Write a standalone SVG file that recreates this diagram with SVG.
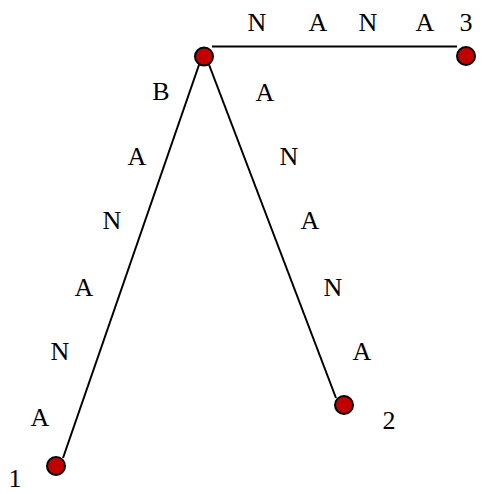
<svg xmlns="http://www.w3.org/2000/svg" width="489" height="494" viewBox="0 0 489 494">
<style>
.edge{stroke:#000;stroke-width:2;fill:none}
.node{fill:#c00000;stroke:#000;stroke-width:2}
text{font-family:"Liberation Serif","Times New Roman",serif;font-size:26px;fill:#000;text-anchor:middle}
</style>
<rect width="489" height="494" fill="#fff"/>
<g id="connectors">
<line class="edge" x1="212" y1="46.5" x2="457" y2="46.5"/>
<line class="edge" x1="200" y1="62" x2="63" y2="458"/>
<line class="edge" x1="208" y1="62" x2="336" y2="398"/>
</g>
<g id="labels">
<text x="257" y="31">N</text><text x="318" y="31">A</text><text x="368" y="31">N</text><text x="425" y="31">A</text>
<text x="161" y="100">B</text><text x="137" y="165">A</text><text x="112" y="229">N</text><text x="84" y="296">A</text><text x="60" y="360">N</text><text x="40" y="426">A</text>
<text x="265" y="101">A</text><text x="289" y="165">N</text><text x="310" y="229">A</text><text x="333" y="296">N</text><text x="362" y="360">A</text>
</g>
<g id="root"><circle class="node" cx="204" cy="56.5" r="9"/></g>
<g id="n3"><circle class="node" cx="466" cy="56" r="9"/><text x="466" y="31">3</text></g>
<g id="n1"><circle class="node" cx="56" cy="466" r="9"/><text x="15" y="487">1</text></g>
<g id="n2"><circle class="node" cx="344" cy="405" r="9"/><text x="389" y="429">2</text></g>
</svg>
